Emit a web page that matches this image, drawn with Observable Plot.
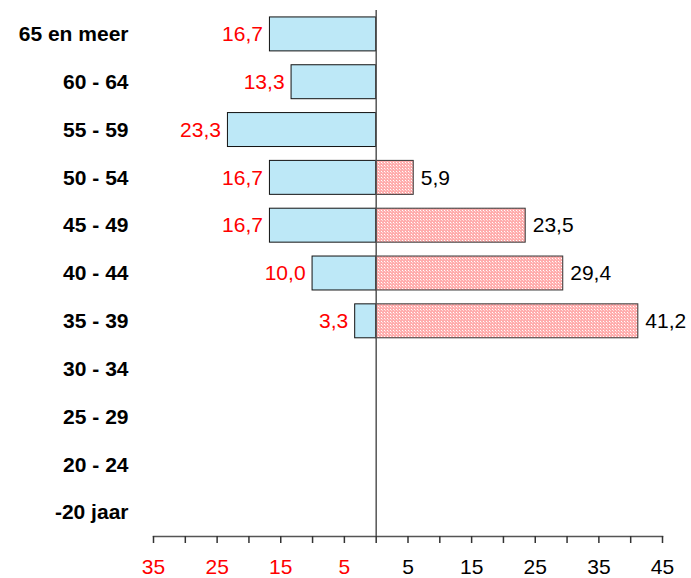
<!DOCTYPE html>
<html>
<head>
<meta charset="utf-8">
<script src="https://cdn.jsdelivr.net/npm/d3@7"></script>
<script src="https://cdn.jsdelivr.net/npm/@observablehq/plot@0.6"></script>
<style>
  html, body { margin: 0; padding: 0; background: #fff; }
  #chart svg { display: block; }
</style>
</head>
<body>
<div id="chart"></div>
<script>
const categories = ["65 en meer","60 - 64","55 - 59","50 - 54","45 - 49","40 - 44","35 - 39","30 - 34","25 - 29","20 - 24","-20 jaar"];
const leftValues = [16.7, 13.3, 23.3, 16.7, 16.7, 10.0, 3.3, null, null, null, null];
const rightValues = [null, null, null, 5.9, 23.5, 29.4, 41.2, null, null, null, null];
const tickValues = [-35,-30,-25,-20,-15,-10,-5,0,5,10,15,20,25,30,35,40,45];
const labelTicksNeg = [-35,-25,-15,-5];
const labelTicksPos = [5,15,25,35,45];

const leftData = categories.map((c,i) => ({cat: c, v: leftValues[i]})).filter(d => d.v != null);
const rightData = categories.map((c,i) => ({cat: c, v: rightValues[i]})).filter(d => d.v != null);
const fmt = v => Math.abs(v).toFixed(1).replace(".", ",");

const chart = Plot.plot({
  width: 691,
  height: 578,
  marginLeft: 153,
  marginRight: 29,
  marginTop: 10,
  marginBottom: 42,
  style: {fontFamily: "Arial, 'Liberation Sans', sans-serif", fontSize: "21px", background: "#fff"},
  x: {domain: [-35, 45]},
  y: {domain: categories, paddingInner: 0.29, paddingOuter: 0.145, round: false},
  marks: [
    Plot.barX(leftData, {x1: 0, x2: d => -d.v, y: "cat", fill: "#bde8f7", stroke: "#111", strokeWidth: 1}),
    Plot.barX(rightData, {x1: 0, x2: "v", y: "cat", fill: "url(#pinkdots)", stroke: "#333", strokeWidth: 1}),
    Plot.ruleX([0], {stroke: "#555", strokeWidth: 1.5}),
    Plot.text(leftData, {x: d => -d.v, y: "cat", text: d => fmt(d.v), textAnchor: "end", dx: -7, fill: "#ff0000", fontSize: 21}),
    Plot.text(rightData, {x: "v", y: "cat", text: d => fmt(d.v), textAnchor: "start", dx: 7, fill: "#000", fontSize: 21}),
    Plot.frame({anchor: "bottom", stroke: "#555", strokeWidth: 1.5}),
    Plot.axisX({ticks: tickValues, tickSize: 7, tickFormat: () => "", stroke: "#333", strokeWidth: 1.5, label: null}),
    Plot.axisX({ticks: labelTicksNeg, tickSize: 0, tickPadding: 23, tickFormat: d => String(Math.abs(d)), fill: "#ff0000", fontSize: 21, label: null}),
    Plot.axisX({ticks: labelTicksPos, tickSize: 0, tickPadding: 23, tickFormat: d => String(Math.abs(d)), fill: "#000", fontSize: 21, label: null}),
    Plot.axisY({tickSize: 0, tickPadding: 25, fontWeight: "bold", fontSize: 21, fill: "#000", label: null})
  ]
});

const svg = d3.select(chart);
const defs = svg.insert("defs", ":first-child");
const pat = defs.append("pattern")
  .attr("id", "pinkdots")
  .attr("patternUnits", "userSpaceOnUse")
  .attr("width", 3).attr("height", 3);
pat.append("rect").attr("width", 3).attr("height", 3).attr("fill", "#ffadad");
pat.append("rect").attr("x", 0).attr("y", 0).attr("width", 1).attr("height", 1).attr("fill", "#ffffff");
pat.append("rect").attr("x", 1).attr("y", 1).attr("width", 1).attr("height", 1).attr("fill", "#ffd6d6");

document.getElementById("chart").appendChild(chart);
</script>
</body>
</html>
